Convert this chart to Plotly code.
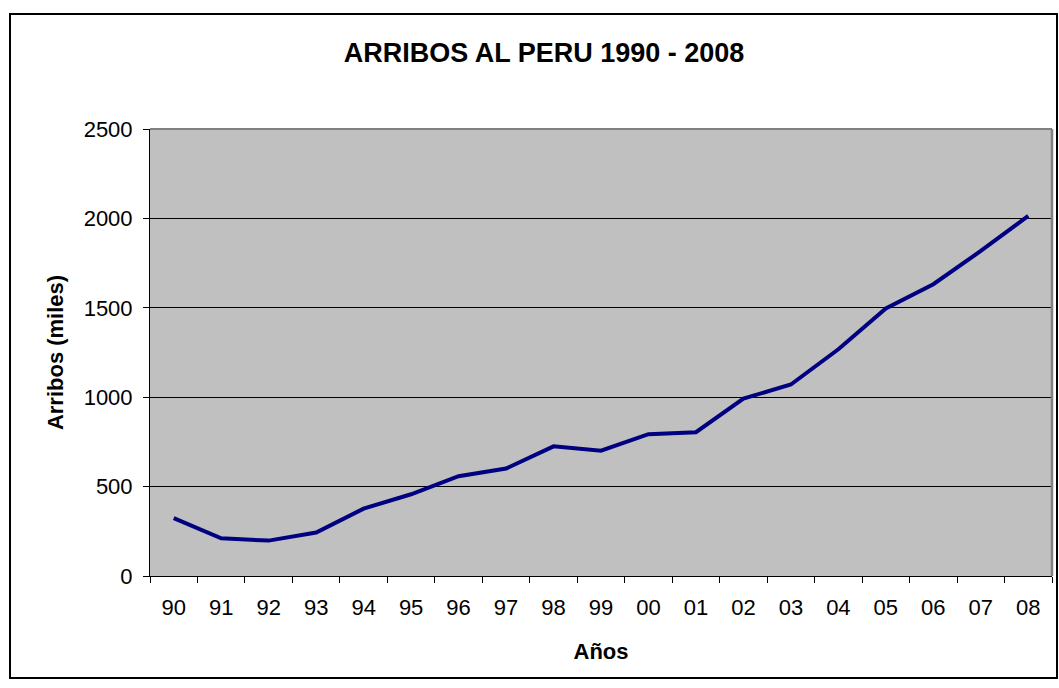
import plotly.graph_objects as go

years = ["90", "91", "92", "93", "94", "95", "96", "97", "98", "99",
         "00", "01", "02", "03", "04", "05", "06", "07", "08"]
arribos = [324, 211, 198, 243, 377, 457, 558, 601, 725, 701,
           793, 804, 992, 1071, 1268, 1496, 1632, 1818, 2014]
y_ticks = [0, 500, 1000, 1500, 2000, 2500]

W, H = 1059, 688
# plot area in pixels
L, R, T, B = 150, 1052, 129, 576

fig = go.Figure(go.Scatter(
    x=years,
    y=arribos,
    mode="lines",
    line=dict(color="#000080", width=4),
    hoverinfo="x+y",
))

def px_x(p):
    return (p - L) / (R - L)

def px_y(p):
    return (B - p) / (B - T)

fig.update_layout(
    width=W,
    height=H,
    margin=dict(l=L, r=W - R, t=T, b=H - B),
    paper_bgcolor="white",
    plot_bgcolor="#C0C0C0",
    font=dict(family="Liberation Sans, Arial, sans-serif", color="black", size=20),
    showlegend=False,
    title=dict(
        text="<b>ARRIBOS AL PERU 1990 - 2008</b>",
        font=dict(size=27),
        x=544 / W, xanchor="center",
        y=1 - 53 / H, yanchor="middle",
        yref="container",
    ),
    xaxis=dict(
        type="category",
        showgrid=False,
        ticks="outside", ticklen=6, tickcolor="black", tickwidth=1,
        tickson="boundaries",
        showline=True, linecolor="black", linewidth=1,
        tickfont=dict(size=22),
        ticklabelstandoff=12,
        title=dict(text="<b>Años</b>", font=dict(size=22), standoff=24),
        range=[-0.5, len(years) - 0.5],
    ),
    yaxis=dict(
        range=[0, 2500],
        tickvals=y_ticks,
        showgrid=True, gridcolor="black", gridwidth=1,
        ticks="outside", ticklen=6, tickcolor="black", tickwidth=1,
        showline=True, linecolor="black", linewidth=1,
        tickfont=dict(size=22),
        ticklabelstandoff=6,
        title=dict(text="<b>Arribos (miles)</b>", font=dict(size=22), standoff=13),
        zeroline=False,
    ),
    shapes=[
        # grey outline on top/right of the plot area
        dict(type="line", xref="paper", yref="paper", x0=0, x1=1, y0=1, y1=1,
             line=dict(color="#808080", width=2)),
        dict(type="line", xref="paper", yref="paper", x0=1, x1=1, y0=0, y1=1,
             line=dict(color="#808080", width=2.5)),
        # outer chart border
        dict(type="rect", xref="paper", yref="paper",
             x0=px_x(10), x1=px_x(1057), y0=px_y(678), y1=px_y(14),
             line=dict(color="black", width=2), layer="above"),
    ],
)

fig.write_html("out.html", config={"displayModeBar": False},
               post_script="document.body.style.margin='0';")
